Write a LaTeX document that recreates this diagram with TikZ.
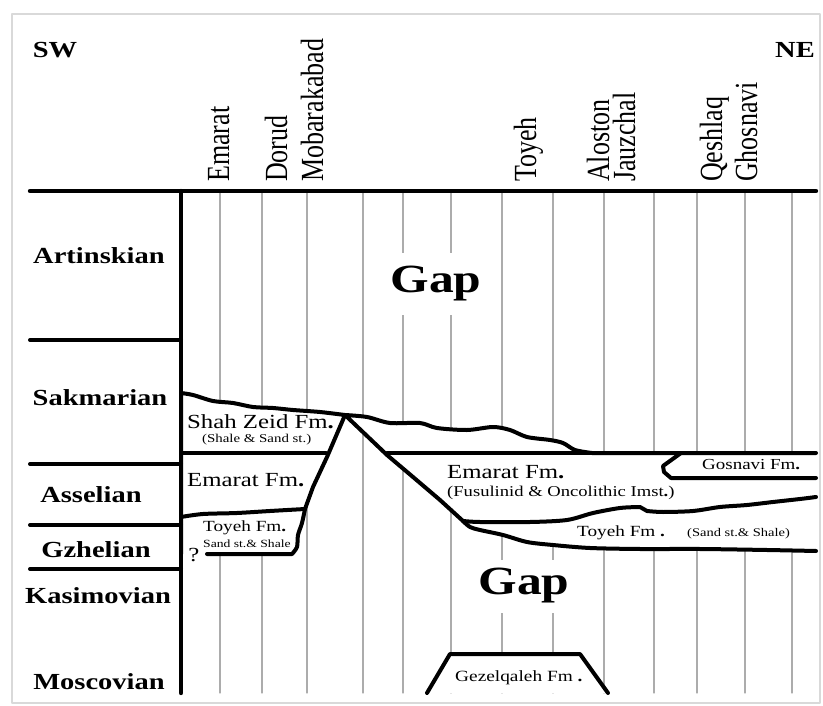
\documentclass[tikz,border=0pt]{standalone}
\usepackage{fontspec}
\setmainfont{Liberation Serif}[FakeStretch=1.24]
\newfontfamily\locfont{Liberation Serif}
\usetikzlibrary{positioning}
\newcommand\fsz[1]{\fontsize{#1}{#1}\selectfont}

\begin{document}
\begin{tikzpicture}[x=1pt,y=-1pt,line cap=round,line join=round,
  thin line/.style={gray!65, line width=1.1pt},
  fm/.style={black, line width=4pt},
  axis/.style={black, line width=4.4pt},
  stage/.style={font=\bfseries\fsz{23}, inner sep=0pt},
  loc/.style={rotate=90, anchor=base west, inner sep=0pt, font=\locfont\fsz{26}},
  gap/.style={fill=white, font=\bfseries\fsz{40}, inner xsep=2pt, inner ysep=0pt},
  fmtext/.style={anchor=west, inner sep=0pt}]
\useasboundingbox (0,0) rectangle (823,706);

% frame
\draw [gray!30, line width=2.5pt] (12,14) rectangle (820,703);

% wells
\foreach \x in {220,262,307,363,403,451,502,553,604,654,697,745,792}
  \draw [thin line] (\x,191) -- (\x,693);

% SW block
\draw [fm, fill=white] (181,554) -- (181,393) -- plot[smooth] coordinates {(181,393) (193,395) (213,401) (233,403) (253,407) (273,408) (293,410) (320,412) (345,415)}
  -- (327,457) -- (313,487) -- (305,509) -- plot[smooth] coordinates {(305,509) (302,523) (298,535) (297,547) (292,554)} -- (207,554);
\draw [fm] (181,453) -- (326,453);
\draw [fm] plot[smooth] coordinates {(181,517) (203,514) (237,513) (270,511) (305,509)};

% NE block
\draw [fm, fill=white] (816,551) -- plot[smooth] coordinates {(816,551) (767,550) (700,549) (640,549) (590,548) (553,545) (527,542) (503,535) (480,530) (470,527) (463,521)}
  -- (440,500) -- (413,477) -- (387,455) -- (345,415) -- plot[smooth] coordinates {(345,415) (367,417) (390,423) (420,423) (437,428) (467,430) (493,427) (510,430) (527,437) (550,440) (563,443) (575,450) (592,453)} -- (816,453);
\draw [fm] (387,453) -- (600,453);
\draw [fm] plot[smooth] coordinates {(463,521) (480,522) (530,522) (567,520) (593,513) (620,508) (640,507)} -- (647,511)
  -- plot[smooth] coordinates {(647,511) (663,512) (693,511) (720,507) (747,505) (773,502) (800,499) (816,497)};
\draw [fm] (681,453) -- (663,466) -- (664,472) -- (671,478) -- (816,478);

% Gezelqaleh
\draw [fm, fill=white] (427,693) -- (450,654) -- (580,654) -- (608,693);

% stages
\foreach \y in {340,464,525,569}
  \draw [fm] (30,\y) -- (181,\y);
\draw [axis] (30,191) -- (816,191);
\draw [axis] (181,191) -- (181,693);

\node [stage] (art) at (99,256) {Artinskian};
\node [stage] (sak) at (100,398) {Sakmarian};
\node [stage] (ass) at (91,495) {Asselian};
\node [stage] (gzh) at (96,550) {Gzhelian};
\node [stage] (kas) at (98,596) {Kasimovian};
\node [stage] (mos) at (99,682) {Moscovian};

\node [font=\bfseries\fsz{23}, inner sep=0pt] (sw) at (55,50) {SW};
\node [font=\bfseries\fsz{23}, inner sep=0pt] (ne) at (795,50) {NE};

% localities
\node [loc] (emarat) at (229,182) {\scalebox{1}[1.24]{Emarat}};
\node [loc] (dorud) at (287,182) {\scalebox{1}[1.24]{Dorud}};
\node [loc] (mobar) at (323,182) {\scalebox{1}[1.24]{Mobarakabad}};
\node [loc] (toyeh) at (536,182) {\scalebox{1}[1.24]{Toyeh}};
\node [loc] (aloston) at (609,182) {\scalebox{1}[1.24]{Aloston}};
\node [loc] (jauz) at (635,182) {\scalebox{1}[1.24]{Jauzchal}};
\node [loc] (qesh) at (722,182) {\scalebox{1}[1.24]{Qeshlaq}};
\node [loc] (ghos) at (757,182) {\scalebox{1}[1.24]{Ghosnavi}};

% gaps
\node [gap, minimum height=62pt] (gap1) at (436,284) {Gap};
\node [gap, minimum height=53pt] (gap2) at (524,586) {Gap};

% formations
\node [fmtext, font=\fsz{20}] (shah) at (187,422) {Shah Zeid Fm\textbf{.}};
\node [fmtext, font=\fsz{12}] (shahlith) at (202,440) {(Shale \& Sand st.)};
\node [fmtext, font=\fsz{20}] (emaratl) at (187,480) {Emarat Fm\textbf{.}};
\node [fmtext, font=\fsz{15.5}] (toyehl) at (203,528) {Toyeh Fm\textbf{.}};
\node [fmtext, font=\fsz{11}] (toyehllith) at (203,544) {Sand st.\& Shale};
\node [font=\fsz{20}, inner sep=0pt] (q) at (194,555) {?};
\node [fmtext, font=\fsz{20}] (emaratr) at (447,472) {Emarat Fm\textbf{.}};
\node [fmtext, font=\fsz{15}] (emaratrlith) at (447,493) {(Fusulinid \& Oncolithic Imst\textbf{.})};
\node [fmtext, font=\fsz{15.3}] (gosnavi) at (702,465) {Gosnavi Fm\textbf{.}};
\node [fmtext, font=\fsz{15.5}] (toyehr) at (577,533) {Toyeh Fm \textbf{.}};
\node [fmtext, font=\fsz{11.7}] (toyehrlith) at (687,534) {(Sand st.\& Shale)};
\node [fmtext, font=\fsz{15.6}] (gezel) at (455,678) {Gezelqaleh Fm \textbf{.}};
\end{tikzpicture}
\end{document}
